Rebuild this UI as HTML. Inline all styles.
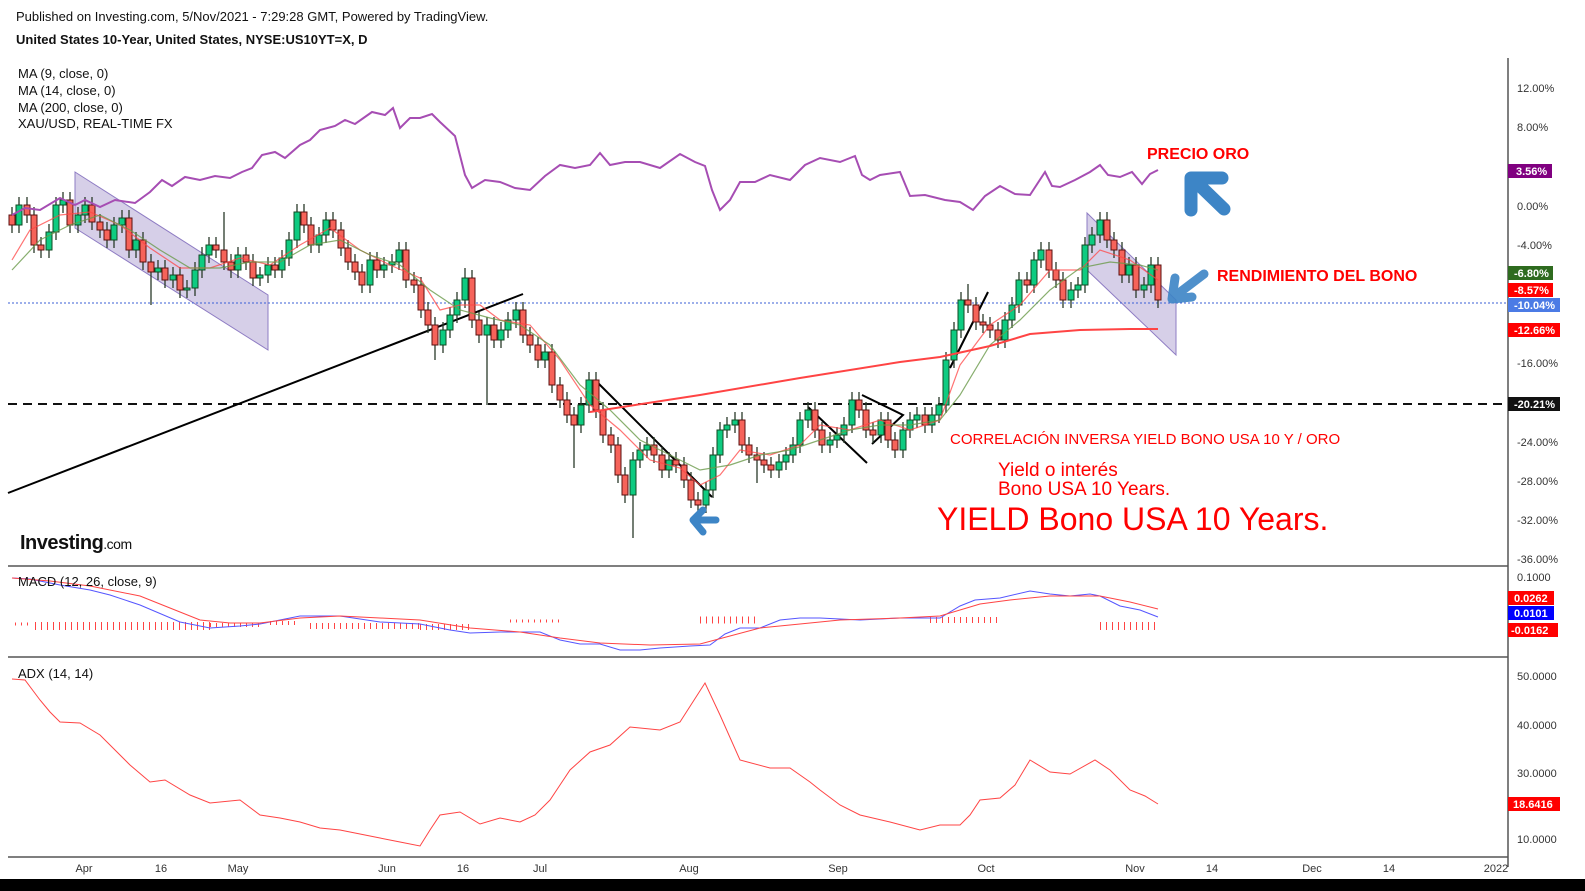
<!DOCTYPE html>
<html><head><meta charset="utf-8">
<style>
html,body{margin:0;padding:0;background:#fff;}
svg{display:block;font-family:"Liberation Sans",sans-serif;}
</style></head>
<body>
<svg width="1585" height="891" viewBox="0 0 1585 891" xmlns="http://www.w3.org/2000/svg">
<rect width="1585" height="891" fill="#fff"/>
<!-- channels -->
<polygon points="75,172 268,295 268,350 75,228" fill="#b4a7d6" fill-opacity="0.55" stroke="#8e7cc3"/>
<polygon points="1087,213 1176,300 1176,355 1087,270" fill="#b4a7d6" fill-opacity="0.55" stroke="#8e7cc3"/>
<!-- frames -->
<line x1="1508" y1="58" x2="1508" y2="867" stroke="#555" stroke-width="1.5"/>
<line x1="8" y1="566" x2="1508" y2="566" stroke="#555" stroke-width="1.5"/>
<line x1="8" y1="657" x2="1508" y2="657" stroke="#555" stroke-width="1.5"/>
<line x1="8" y1="857" x2="1508" y2="857" stroke="#555" stroke-width="1.5"/>
<rect x="0" y="879" width="1585" height="12" fill="#000"/>
<line x1="8" y1="404" x2="1508" y2="404" stroke="#111" stroke-width="2" stroke-dasharray="9,6"/>
<line x1="8" y1="303" x2="1508" y2="303" stroke="#3b5fd6" stroke-width="1" stroke-dasharray="2,2"/>
<!-- trend lines -->
<g stroke="#000" stroke-width="2" fill="none">
<line x1="8" y1="493" x2="523" y2="294"/>
<line x1="598" y1="383" x2="712" y2="497"/>
<line x1="808" y1="407" x2="867" y2="463"/>
<polyline points="862,395 903,415 872,444"/>
<line x1="950" y1="368" x2="988" y2="292"/>
</g>
<!-- wicks -->
<path stroke="#2a3a2a" stroke-width="1.3" fill="none" d="M12 207V233M19 197V233M27 197V223M34 207V253M41 237V258M49 224V258M56 197V240M63 192V213M70 192V233M78 207V233M85 197V223M92 197V230M100 214V238M107 222V248M114 217V248M122 210V233M129 210V258M136 232V258M143 232V270M151 254V305M158 260V280M165 260V288M173 267V288M180 267V298M187 280V298M195 262V296M202 247V278M209 237V263M216 237V258M224 212V270M231 254V278M238 247V278M246 247V270M253 254V286M260 267V286M268 257V283M275 257V278M282 250V278M289 232V266M297 204V248M304 204V233M311 217V253M319 227V253M326 212V243M333 212V238M341 222V256M348 240V270M355 254V280M362 264V293M370 252V293M377 252V278M384 257V278M392 254V273M399 242V270M406 242V288M414 272V293M421 277V318M428 302V333M435 317V360M443 322V353M450 307V338M457 292V323M465 268V308M472 270V328M479 312V343M487 317V405M494 317V348M501 322V348M508 312V338M516 302V328M523 302V343M530 327V353M538 337V368M545 344V368M552 344V393M560 377V408M567 392V423M574 407V468M581 397V433M589 372V413M596 372V418M603 402V443M611 427V453M618 437V483M625 467V503M633 452V538M640 442V468M647 437V458M654 437V463M662 447V478M669 452V478M676 452V473M684 457V488M691 472V508M698 492V513M706 482V513M713 447V498M720 422V463M727 417V438M735 412V433M742 412V453M749 437V463M757 447V483M764 452V473M771 457V478M779 454V478M786 447V470M793 437V463M800 412V453M808 402V428M815 402V438M822 422V453M830 432V453M837 427V448M844 417V443M852 392V433M859 392V418M866 402V438M873 422V443M881 412V443M888 412V448M895 432V458M903 422V458M910 412V438M917 407V428M925 407V433M932 407V433M939 397V423M946 352V413M954 322V368M961 292V338M968 284V313M976 297V330M983 314V333M990 317V338M998 322V348M1005 312V348M1012 297V328M1019 272V313M1027 272V293M1034 252V293M1041 242V268M1049 242V278M1056 262V288M1063 272V308M1071 282V308M1078 277V298M1085 237V293M1092 227V253M1100 212V243M1107 212V248M1114 232V258M1122 242V283M1129 257V283M1136 257V298M1144 277V298M1151 257V293M1158 257V308"/>
<!-- green bodies -->
<path fill="#0ecb81" stroke="#124a22" stroke-width="1" d="M16 205h6v20h-6zM46 232h6v18h-6zM53 205h6v27h-6zM60 200h6v5h-6zM75 215h6v10h-6zM82 205h6v10h-6zM111 225h6v15h-6zM119 218h6v7h-6zM133 240h6v10h-6zM155 268h6v4h-6zM170 275h6v5h-6zM184 288h6v2h-6zM192 270h6v18h-6zM199 255h6v15h-6zM206 245h6v10h-6zM235 255h6v15h-6zM257 275h6v3h-6zM265 265h6v10h-6zM279 258h6v12h-6zM286 240h6v18h-6zM294 212h6v28h-6zM316 235h6v10h-6zM323 220h6v15h-6zM367 260h6v25h-6zM381 265h6v5h-6zM389 262h6v3h-6zM396 250h6v12h-6zM440 330h6v15h-6zM447 315h6v15h-6zM454 300h6v15h-6zM462 278h6v22h-6zM484 325h6v10h-6zM498 330h6v10h-6zM505 320h6v10h-6zM513 310h6v10h-6zM542 352h6v8h-6zM578 405h6v20h-6zM586 380h6v25h-6zM630 460h6v35h-6zM637 450h6v10h-6zM644 445h6v5h-6zM666 460h6v10h-6zM703 490h6v15h-6zM710 455h6v35h-6zM717 430h6v25h-6zM724 425h6v5h-6zM732 420h6v5h-6zM776 462h6v8h-6zM783 455h6v7h-6zM790 445h6v10h-6zM797 420h6v25h-6zM805 410h6v10h-6zM827 440h6v5h-6zM834 435h6v5h-6zM841 425h6v10h-6zM849 400h6v25h-6zM878 420h6v15h-6zM900 430h6v20h-6zM907 420h6v10h-6zM914 415h6v5h-6zM929 415h6v10h-6zM936 405h6v10h-6zM943 360h6v45h-6zM951 330h6v30h-6zM958 300h6v30h-6zM1002 320h6v20h-6zM1009 305h6v15h-6zM1016 280h6v25h-6zM1031 260h6v25h-6zM1038 250h6v10h-6zM1068 290h6v10h-6zM1075 285h6v5h-6zM1082 245h6v40h-6zM1089 235h6v10h-6zM1097 220h6v15h-6zM1126 265h6v10h-6zM1141 285h6v5h-6zM1148 265h6v20h-6z"/>
<!-- red bodies -->
<path fill="#f6635a" stroke="#5a1010" stroke-width="1" d="M9 215h6v10h-6zM24 205h6v10h-6zM31 215h6v30h-6zM38 245h6v5h-6zM67 200h6v25h-6zM89 205h6v17h-6zM97 222h6v8h-6zM104 230h6v10h-6zM126 218h6v32h-6zM140 240h6v22h-6zM148 262h6v10h-6zM162 268h6v12h-6zM177 275h6v15h-6zM213 245h6v5h-6zM221 250h6v12h-6zM228 262h6v8h-6zM243 255h6v7h-6zM250 262h6v16h-6zM272 265h6v5h-6zM301 212h6v13h-6zM308 225h6v20h-6zM330 220h6v10h-6zM338 230h6v18h-6zM345 248h6v14h-6zM352 262h6v10h-6zM359 272h6v13h-6zM374 260h6v10h-6zM403 250h6v30h-6zM411 280h6v5h-6zM418 285h6v25h-6zM425 310h6v15h-6zM432 325h6v20h-6zM469 278h6v42h-6zM476 320h6v15h-6zM491 325h6v15h-6zM520 310h6v25h-6zM527 335h6v10h-6zM535 345h6v15h-6zM549 352h6v33h-6zM557 385h6v15h-6zM564 400h6v15h-6zM571 415h6v10h-6zM593 380h6v30h-6zM600 410h6v25h-6zM608 435h6v10h-6zM615 445h6v30h-6zM622 475h6v20h-6zM651 445h6v10h-6zM659 455h6v15h-6zM673 460h6v5h-6zM681 465h6v15h-6zM688 480h6v20h-6zM695 500h6v5h-6zM739 420h6v25h-6zM746 445h6v10h-6zM754 455h6v5h-6zM761 460h6v5h-6zM768 465h6v5h-6zM812 410h6v20h-6zM819 430h6v15h-6zM856 400h6v10h-6zM863 410h6v20h-6zM870 430h6v5h-6zM885 420h6v20h-6zM892 440h6v10h-6zM922 415h6v10h-6zM965 300h6v5h-6zM973 305h6v17h-6zM980 322h6v3h-6zM987 325h6v5h-6zM995 330h6v10h-6zM1024 280h6v5h-6zM1046 250h6v20h-6zM1053 270h6v10h-6zM1060 280h6v20h-6zM1104 220h6v20h-6zM1111 240h6v10h-6zM1119 250h6v25h-6zM1133 265h6v25h-6zM1155 265h6v35h-6z"/>
<!-- MAs -->
<polyline fill="none" stroke="#f44" stroke-opacity="0.75" stroke-width="1.2" points="12,260 30,230 60,215 90,212 120,225 150,248 180,268 210,268 240,258 270,265 300,245 330,228 360,250 390,265 420,278 440,310 460,305 480,305 500,320 530,325 560,360 590,405 620,430 650,460 680,468 700,485 720,475 740,450 770,455 800,445 820,425 850,430 880,420 910,430 940,420 960,365 990,325 1020,305 1050,270 1080,270 1100,250 1130,260 1158,280"/>
<polyline fill="none" stroke="#6a9a4a" stroke-opacity="0.8" stroke-width="1.2" points="12,270 40,240 70,225 100,215 130,230 160,250 190,268 220,268 250,262 280,262 310,245 340,240 370,255 400,265 430,290 460,310 490,318 520,325 550,345 580,385 610,410 640,440 670,455 700,470 730,465 760,455 790,450 820,440 850,430 880,425 910,425 940,420 960,395 990,345 1020,320 1050,290 1080,268 1110,262 1140,265 1158,270"/>
<polyline fill="none" stroke="#f44" stroke-width="2" points="590,412 700,395 800,378 900,362 940,357 990,346 1030,334 1080,330 1130,329 1158,329"/>
<!-- gold -->
<polyline fill="none" stroke="#a64db3" stroke-width="2" points="12,215 25,208 40,210 60,198 75,205 85,200 100,207 115,200 135,203 150,192 162,180 172,186 185,177 200,180 215,176 230,178 242,172 252,168 262,155 275,152 285,158 300,145 310,140 320,130 335,126 345,120 355,124 372,112 385,115 393,108 400,128 410,118 420,118 432,114 440,122 455,136 465,175 472,188 485,180 500,182 515,188 530,190 545,176 560,165 575,168 590,165 600,153 610,165 625,162 640,162 660,168 680,154 695,162 705,166 712,190 720,210 730,200 740,182 755,182 770,175 790,180 805,165 820,158 840,162 855,156 862,175 870,180 880,175 900,172 910,196 925,195 945,200 960,202 973,210 985,196 1000,186 1015,194 1030,195 1045,172 1052,186 1060,187 1075,180 1090,172 1100,165 1108,175 1120,177 1132,172 1142,184 1150,174 1158,170"/>
<!-- MACD histogram -->
<g stroke="#f44" fill="none" stroke-dasharray="1,5">
<line x1="15" y1="624" x2="30" y2="624" stroke-width="3"/>
<line x1="35" y1="626" x2="210" y2="626" stroke-width="8"/>
<line x1="210" y1="625" x2="260" y2="625" stroke-width="4"/>
<line x1="270" y1="623" x2="300" y2="623" stroke-width="4"/>
<line x1="310" y1="626" x2="420" y2="626" stroke-width="6"/>
<line x1="420" y1="627" x2="470" y2="627" stroke-width="6"/>
<line x1="510" y1="621" x2="560" y2="621" stroke-width="3"/>
<line x1="700" y1="620" x2="760" y2="620" stroke-width="7"/>
<line x1="930" y1="620" x2="1000" y2="620" stroke-width="6"/>
<line x1="1100" y1="626" x2="1158" y2="626" stroke-width="8"/>
</g>
<polyline fill="none" stroke="#55f" stroke-width="1" points="12,578 30,579 60,585 90,590 110,595 140,605 180,622 210,628 240,626 260,624 300,616 340,616 380,622 420,624 450,630 470,633 500,632 540,632 560,640 580,644 600,644 620,650 640,650 660,648 690,646 710,645 725,634 740,628 760,628 780,620 800,618 820,618 860,620 900,618 940,618 960,606 975,600 1000,598 1030,591 1050,594 1070,596 1090,594 1100,596 1120,606 1140,610 1158,617"/>
<polyline fill="none" stroke="#f44" stroke-width="1" points="12,578 50,581 90,586 140,596 170,608 200,620 230,623 260,623 300,618 340,616 380,618 420,620 470,628 520,632 560,638 600,643 650,645 700,644 730,636 760,628 800,624 840,620 900,618 940,616 980,604 1010,600 1050,596 1100,596 1130,602 1158,609"/>
<!-- ADX -->
<polyline fill="none" stroke="#f44" stroke-width="1" points="12,679 25,680 40,700 50,712 60,722 80,723 100,735 115,750 130,765 150,782 165,780 190,795 210,803 240,800 260,815 280,818 300,822 320,828 340,830 360,834 380,838 400,842 420,846 430,830 440,815 460,812 480,824 500,818 520,822 535,815 550,800 560,785 570,770 590,752 610,745 630,727 660,730 680,722 705,683 720,715 740,760 770,768 790,768 810,782 820,790 840,805 860,815 890,822 920,830 940,825 960,825 970,815 980,800 1000,798 1015,785 1030,760 1050,772 1070,774 1095,760 1110,770 1130,790 1145,796 1158,804"/>
<!-- header text -->
<text x="16" y="21" font-size="13" fill="#111">Published on Investing.com, 5/Nov/2021 - 7:29:28 GMT, Powered by TradingView.</text>
<text x="16" y="44" font-size="13" font-weight="bold" fill="#111">United States 10-Year, United States, NYSE:US10YT=X, D</text>
<text x="18" y="78" font-size="13" fill="#111">MA (9, close, 0)</text>
<text x="18" y="95" font-size="13" fill="#111">MA (14, close, 0)</text>
<text x="18" y="112" font-size="13" fill="#111">MA (200, close, 0)</text>
<text x="18" y="128" font-size="13" fill="#111">XAU/USD, REAL-TIME FX</text>
<text x="20" y="549" font-size="20" font-weight="bold" fill="#111" letter-spacing="-0.5">Investing<tspan font-size="14" font-weight="normal">.com</tspan></text>
<text x="18" y="586" font-size="13" fill="#111">MACD (12, 26, close, 9)</text>
<text x="18" y="678" font-size="13" fill="#111">ADX (14, 14)</text>
<!-- annotations -->
<text x="1147" y="159" font-size="16" font-weight="bold" fill="#f00">PRECIO ORO</text>
<text x="1217" y="281" font-size="16" font-weight="bold" fill="#f00">RENDIMIENTO DEL BONO</text>
<text x="950" y="444" font-size="15" fill="#f00">CORRELACIÓN INVERSA YIELD BONO USA 10 Y / ORO</text>
<text x="998" y="476" font-size="19" fill="#f00">Yield o interés</text>
<text x="998" y="495" font-size="19" fill="#f00">Bono USA 10 Years.</text>
<text x="937" y="530" font-size="32" fill="#f00">YIELD Bono USA 10 Years.</text>
<!-- blue arrows -->
<g stroke="#3d85c6" stroke-width="13" stroke-linecap="round" stroke-linejoin="round" fill="none">
<path d="M1224 209 L1195 181"/><path d="M1191 210 L1191 178 L1222 178"/>
</g>
<g stroke="#3d85c6" stroke-width="9" stroke-linecap="round" stroke-linejoin="round" fill="none" opacity="0.9">
<path d="M1204 274 L1175 296"/><path d="M1175 278 L1172 299 L1192 297"/>
</g>
<g stroke="#3d85c6" stroke-width="7" stroke-linecap="round" stroke-linejoin="round" fill="none">
<path d="M716 520 L695 520"/><path d="M703 510 L693 520 L703 532"/>
</g>
<!-- right axis -->
<g font-size="11" fill="#333">
<text x="1517" y="92">12.00%</text><text x="1517" y="131">8.00%</text><text x="1517" y="210">0.00%</text>
<text x="1517" y="249">-4.00%</text><text x="1517" y="367">-16.00%</text><text x="1517" y="446">-24.00%</text>
<text x="1517" y="485">-28.00%</text><text x="1517" y="524">-32.00%</text><text x="1517" y="563">-36.00%</text>
<text x="1517" y="581">0.1000</text>
<text x="1517" y="680">50.0000</text><text x="1517" y="729">40.0000</text><text x="1517" y="777">30.0000</text><text x="1517" y="843">10.0000</text>
</g>
<g font-size="11" font-weight="bold" fill="#fff">
<rect x="1508" y="164" width="44" height="14" fill="#800080"/><text x="1516" y="175">3.56%</text>
<rect x="1508" y="266" width="45" height="14" fill="#2e6b1f"/><text x="1514" y="277">-6.80%</text>
<rect x="1508" y="283" width="45" height="14" fill="#f00"/><text x="1514" y="294">-8.57%</text>
<rect x="1508" y="298" width="52" height="14" fill="#4b7be5"/><text x="1514" y="309">-10.04%</text>
<rect x="1508" y="323" width="52" height="14" fill="#f00"/><text x="1514" y="334">-12.66%</text>
<rect x="1508" y="397" width="52" height="14" fill="#111"/><text x="1514" y="408">-20.21%</text>
<rect x="1508" y="591" width="46" height="14" fill="#f00"/><text x="1514" y="602">0.0262</text>
<rect x="1508" y="606" width="46" height="14" fill="#00f"/><text x="1514" y="617">0.0101</text>
<rect x="1508" y="623" width="50" height="14" fill="#f00"/><text x="1511" y="634">-0.0162</text>
<rect x="1508" y="797" width="52" height="14" fill="#f00"/><text x="1513" y="808">18.6416</text>
</g>
<!-- time axis -->
<g font-size="11" fill="#333" text-anchor="middle">
<text x="84" y="872">Apr</text><text x="161" y="872">16</text><text x="238" y="872">May</text><text x="387" y="872">Jun</text>
<text x="463" y="872">16</text><text x="540" y="872">Jul</text><text x="689" y="872">Aug</text><text x="838" y="872">Sep</text>
<text x="986" y="872">Oct</text><text x="1135" y="872">Nov</text><text x="1212" y="872">14</text><text x="1312" y="872">Dec</text>
<text x="1389" y="872">14</text><text x="1496" y="872">2022</text>
</g>
</svg>
</body></html>
